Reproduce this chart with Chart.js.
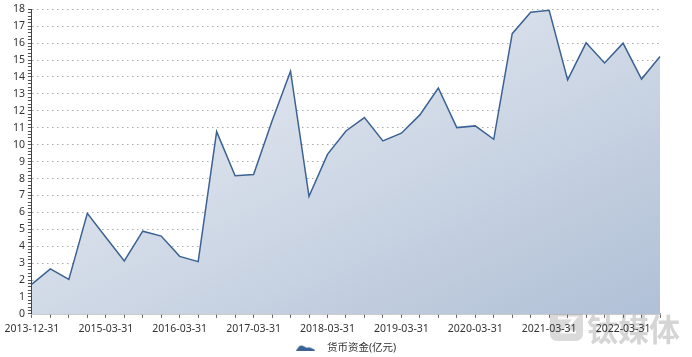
<!DOCTYPE html>
<html>
<head>
<meta charset="utf-8">
<script src="https://cdn.jsdelivr.net/npm/chart.js@4/dist/chart.umd.min.js"></script>
<style>
  html, body { margin: 0; padding: 0; background: #fff; }
  #wrap { width: 692px; height: 357px; }
</style>
</head>
<body>
<div id="wrap"><canvas id="lineChart"></canvas></div>
<script>
// categories (report dates)
const dates = [
    '2013-12-31', '2014-06-30', '2014-09-30', '2014-12-31',
    '2015-03-31', '2015-06-30', '2015-09-30', '2015-12-31',
    '2016-03-31', '2016-06-30', '2016-09-30', '2016-12-31',
    '2017-03-31', '2017-06-30', '2017-09-30', '2017-12-31',
    '2018-03-31', '2018-06-30', '2018-09-30', '2018-12-31',
    '2019-03-31', '2019-06-30', '2019-09-30', '2019-12-31',
    '2020-03-31', '2020-06-30', '2020-09-30', '2020-12-31',
    '2021-03-31', '2021-06-30', '2021-09-30', '2021-12-31',
    '2022-03-31', '2022-06-30', '2022-09-30'
];
// 货币资金 (亿元)
const cash = [
    1.76, 2.66, 2.04, 5.94,
    4.53, 3.13, 4.89, 4.60,
    3.40, 3.09, 10.77, 8.16,
    8.24, 11.40, 14.34, 6.95,
    9.43, 10.81, 11.60, 10.22,
    10.68, 11.76, 13.35, 11.01,
    11.11, 10.32, 16.56, 17.83,
    17.94, 13.83, 16.02, 14.83,
    16.00, 13.88, 15.21
];
const seriesName = '货币资金(亿元)';
const yMax = 18;

const lineColor = '#3b6293';
const font = "'Noto Sans', 'Noto Sans CJK SC', sans-serif";

// legend icon: small mountain shape, right part of the canvas left empty as a gap
const icon = document.createElement('canvas');
icon.width = 26; icon.height = 6;
(function () {
    const c = icon.getContext('2d');
    c.fillStyle = lineColor;
    c.beginPath();
    c.moveTo(0, 6);
    c.lineTo(3, 2);
    c.quadraticCurveTo(5, 0, 7, 1);
    c.lineTo(11, 3);
    c.quadraticCurveTo(13, 2, 15, 3);
    c.lineTo(19, 5);
    c.lineTo(19, 6);
    c.closePath();
    c.fill();
})();

// watermark in the bottom right corner, under everything else
const watermark = {
    id: 'watermark',
    beforeDraw(chart) {
        const c = chart.ctx;
        c.save();
        c.fillStyle = 'rgba(150,150,150,0.35)';
        const x = 550, y = 308, s = 33, r = 7;
        c.beginPath();
        c.moveTo(x + r, y);
        c.arcTo(x + s, y, x + s, y + s, r);
        c.arcTo(x + s, y + s, x, y + s, r);
        c.arcTo(x, y + s, x, y, r);
        c.arcTo(x, y, x + s, y, r);
        c.closePath();
        c.fill();
        c.strokeStyle = 'rgba(255,255,255,0.9)';
        c.lineWidth = 3;
        c.beginPath();
        c.moveTo(x + 8, y + 10);
        c.lineTo(x + 25, y + 10);
        c.lineTo(x + 13, y + 24);
        c.lineTo(x + 26, y + 24);
        c.stroke();
        c.fillStyle = 'rgba(150,150,150,0.4)';
        c.font = "bold 31px 'Noto Sans CJK SC'";
        c.textBaseline = 'middle';
        c.fillText('钛媒体', 587, 329);
        c.restore();
    }
};

function areaGradient(context) {
    const area = context.chart.chartArea;
    if (!area) return 'rgba(200,210,225,0.6)';
    const w = area.right - area.left, h = area.bottom - area.top;
    const cx = (area.left + area.right) / 2, cy = (area.top + area.bottom) / 2;
    const n = Math.sqrt(w * w + h * h);
    const dx = h / n, dy = w / n, L = w * h / n;
    const g = context.chart.ctx.createLinearGradient(cx - dx * L, cy - dy * L, cx + dx * L, cy + dy * L);
    g.addColorStop(0, '#f0f2f7');
    g.addColorStop(1, '#b0c0d6');
    return g;
}

const ctx = document.getElementById('lineChart').getContext('2d');
const lineChart = new Chart(ctx, {
    type: 'line',
    data: {
        labels: dates,
        datasets: [{
            label: seriesName,
            data: cash,
            borderColor: lineColor,
            borderWidth: 1.5,
            pointRadius: 0,
            pointHoverRadius: 0,
            tension: 0,
            fill: 'origin',
            backgroundColor: areaGradient
        }]
    },
    options: {
        responsive: true,
        maintainAspectRatio: false,
        animation: false,
        layout: { padding: { top: 9, right: 0, left: 0, bottom: -6 } },
        plugins: {
            legend: {
                position: 'bottom',
                labels: {
                    usePointStyle: true,
                    pointStyle: icon,
                    pointStyleWidth: 26,
                    color: '#333',
                    font: { family: font, size: 10.5 },
                    padding: 3
                }
            },
            tooltip: { enabled: false }
        },
        scales: {
            x: {
                offset: false,
                afterFit: function (scale) { scale.paddingRight = 32; },
                grid: {
                    drawOnChartArea: false,
                    tickLength: 4,
                    tickColor: '#666'
                },
                border: { color: '#999', width: 1.5 },
                ticks: {
                    autoSkip: false,
                    maxRotation: 0,
                    color: '#333',
                    font: { family: font, size: 10.5 },
                    padding: 4.5,
                    callback: function (v, i) { return i % 4 === 0 ? dates[i] : ''; }
                }
            },
            y: {
                min: 0,
                max: yMax,
                afterFit: function (scale) { scale.width = 30; },
                grid: {
                    tickLength: 4,
                    tickColor: '#555',
                    color: function (c) {
                        const v = c.tick ? c.tick.value : 0;
                        return Math.abs(v - Math.round(v)) < 1e-6 && v > 0 ? '#aaa' : 'rgba(0,0,0,0)';
                    }
                },
                border: { color: '#444', width: 1, dash: [1.5, 3.5] },
                ticks: {
                    stepSize: 0.2,
                    autoSkip: false,
                    color: '#333',
                    padding: 3,
                    font: { family: font, size: 10.5 },
                    callback: function (v) {
                        return Math.abs(v - Math.round(v)) < 1e-6 ? String(Math.round(v)) : '';
                    }
                }
            }
        }
    },
    plugins: [watermark]
});
</script>
</body>
</html>
